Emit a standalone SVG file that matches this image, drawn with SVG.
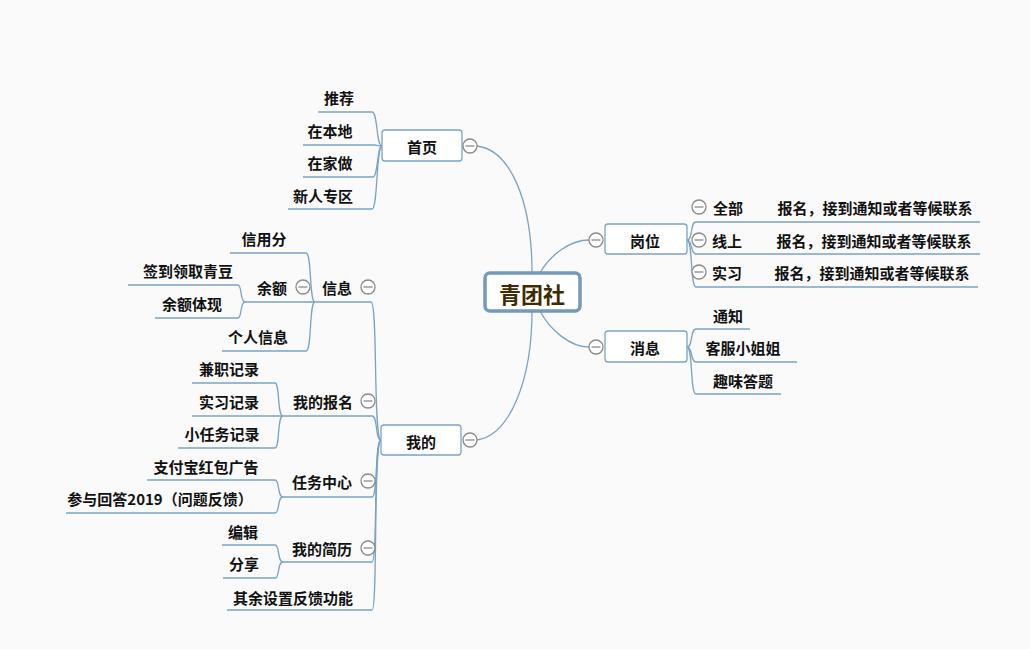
<svg xmlns="http://www.w3.org/2000/svg" width="1030" height="649" viewBox="0 0 1030 649">
<defs>
<style>
text{font-family:"Noto Sans CJK SC","Liberation Sans",sans-serif;font-size:15px;font-weight:bold;fill:#111;text-anchor:middle;dominant-baseline:central}
.l{fill:none;stroke:#7ba3c4;stroke-width:1.3}
.box{fill:#fff;stroke:#7ba3c4;stroke-width:1.3}
</style>
<g id="mc"><circle r="7" fill="#fff" stroke="#8a8a8a" stroke-width="1.3"/><line x1="-4.5" y1="0" x2="4.5" y2="0" stroke="#8a8a8a" stroke-width="1.3"/></g>
</defs>
<rect width="1030" height="649" fill="#fafafa"/>
<g id="connectors">
<path class="l" d="M532 273 C532 200 510 150 477 146"/>
<path class="l" d="M532 311 C532 380 510 435 477 440"/>
<path class="l" d="M540 273 C550 255 570 240 589 240"/>
<path class="l" d="M540 311 C550 330 570 347 589 347"/>
<path class="l" d="M382 146 C376 146 378 112 372 112 H318"/>
<path class="l" d="M382 146 C377 146 378 145 374 145 H303"/>
<path class="l" d="M382 146 C377 146 378 177 373 177 H303"/>
<path class="l" d="M382 146 C376 146 378 209 372 209 H288"/>
<path class="l" d="M381 440 C373 440 378 302 371 302 H315"/>
<path class="l" d="M381 440 C375 440 378 416 372 416 H283"/>
<path class="l" d="M381 440 C375 440 378 497 372 497 H283"/>
<path class="l" d="M381 440 C373 440 378 562 372 562 H283"/>
<path class="l" d="M381 440 C373 440 378 610 372 610 H227"/>
<path class="l" d="M315 302 C309 302 312 253 306 253 H230"/>
<path class="l" d="M315 302 H245"/>
<path class="l" d="M315 302 C309 302 312 351 306 351 H222"/>
<path class="l" d="M245 302 C240 302 242 285 238 285 H128"/>
<path class="l" d="M245 302 C240 302 242 318 238 318 H155"/>
<path class="l" d="M283 416 C277 416 280 383 275 383 H192"/>
<path class="l" d="M283 416 H192"/>
<path class="l" d="M283 416 C277 416 280 448 275 448 H178"/>
<path class="l" d="M283 497 C277 497 280 480 275 480 H147"/>
<path class="l" d="M283 497 C277 497 280 513 275 513 H66"/>
<path class="l" d="M283 562 C277 562 280 545 275 545 H222"/>
<path class="l" d="M283 562 C277 562 280 578 275 578 H223"/>
<path class="l" d="M687 240 C693 240 690 222 696 222 H980"/>
<path class="l" d="M687 240 C693 240 690 254 696 254 H980"/>
<path class="l" d="M687 240 C693 240 690 287 696 287 H978"/>
<path class="l" d="M687 347 C693 347 690 329 696 329 H750"/>
<path class="l" d="M687 347 C693 347 690 362 696 362 H797"/>
<path class="l" d="M687 347 C693 347 690 394 696 394 H781"/>
</g>
<g id="center"><rect x="485" y="273" width="95" height="38" rx="5" fill="#fff" stroke="#7399bb" stroke-width="3.5"/><text x="532" y="293" style="font-size:22px;font-weight:bold;fill:#3d2c00">青团社</text></g>
<g id="shouye"><rect class="box" x="382" y="130" width="80" height="31" rx="3"/><text x="422" y="146">首页</text><use href="#mc" x="470" y="146"/></g>
<g id="tuijian"><text x="339" y="97">推荐</text></g>
<g id="benDi"><text x="330" y="130">在本地</text></g>
<g id="jiazuo"><text x="330" y="162">在家做</text></g>
<g id="xinren"><text x="323" y="195">新人专区</text></g>
<g id="wode"><rect class="box" x="381" y="425" width="80" height="30" rx="3"/><text x="421" y="441">我的</text><use href="#mc" x="470" y="440"/></g>
<g id="xinxi"><text x="337" y="287">信息</text><use href="#mc" x="368" y="287"/></g>
<g id="xinyong"><text x="264" y="238">信用分</text></g>
<g id="yue"><text x="272" y="287">余额</text><use href="#mc" x="303" y="287"/></g>
<g id="qiandao"><text x="188" y="270">签到领取青豆</text></g>
<g id="tixian"><text x="192" y="303">余额体现</text></g>
<g id="geren"><text x="258" y="336">个人信息</text></g>
<g id="baoming"><text x="323" y="401">我的报名</text><use href="#mc" x="368" y="401"/></g>
<g id="jianzhi"><text x="229" y="368">兼职记录</text></g>
<g id="shixijl"><text x="229" y="401">实习记录</text></g>
<g id="xiaorenwu"><text x="222" y="433">小任务记录</text></g>
<g id="renwu"><text x="322" y="481">任务中心</text><use href="#mc" x="368" y="481"/></g>
<g id="zhifubao"><text x="206" y="466">支付宝红包广告</text></g>
<g id="canyu"><text x="160" y="498">参与回答2019（问题反馈）</text></g>
<g id="jianli"><text x="322" y="548">我的简历</text><use href="#mc" x="368" y="548"/></g>
<g id="bianji"><text x="243" y="531">编辑</text></g>
<g id="fenxiang"><text x="244" y="563">分享</text></g>
<g id="qiyu"><text x="293" y="597">其余设置反馈功能</text></g>
<g id="gangwei"><rect class="box" x="605" y="224" width="82" height="30" rx="3"/><text x="645" y="240">岗位</text><use href="#mc" x="596" y="240"/></g>
<g id="quanbu"><use href="#mc" x="699" y="207"/><text x="728" y="207">全部</text><text x="875" y="207">报名，接到通知或者等候联系</text></g>
<g id="xianshang"><use href="#mc" x="699" y="240"/><text x="727" y="240">线上</text><text x="874" y="240">报名，接到通知或者等候联系</text></g>
<g id="shixi"><use href="#mc" x="699" y="272"/><text x="727" y="272">实习</text><text x="872" y="272">报名，接到通知或者等候联系</text></g>
<g id="xiaoxi"><rect class="box" x="605" y="331" width="82" height="31" rx="3"/><text x="645" y="347">消息</text><use href="#mc" x="596" y="347"/></g>
<g id="tongzhi"><text x="728" y="315">通知</text></g>
<g id="kefu"><text x="743" y="347">客服小姐姐</text></g>
<g id="quwei"><text x="743" y="380">趣味答题</text></g>
</svg>
